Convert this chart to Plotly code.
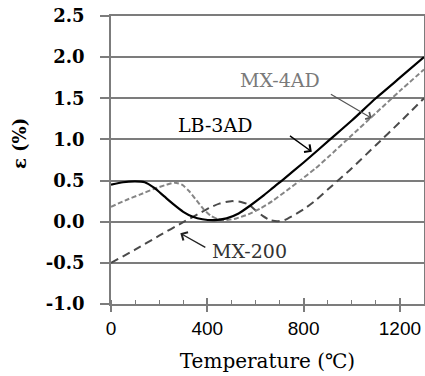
import plotly.graph_objects as go

# ---- data ----
lb3ad_t = [0, 50, 100, 140, 180, 220, 260, 300, 340, 380, 430, 480, 530, 580, 630, 680, 710, 800, 910, 1000, 1100, 1200, 1300]
lb3ad_v = [0.45, 0.48, 0.49, 0.48, 0.41, 0.31, 0.21, 0.12, 0.06, 0.03, 0.02, 0.04, 0.10, 0.20, 0.31, 0.43, 0.50, 0.72, 1.00, 1.23, 1.50, 1.75, 2.00]

mx4ad_t = [0, 60, 120, 180, 230, 265, 295, 325, 355, 385, 415, 445, 480, 520, 570, 620, 670, 730, 785, 850, 900, 1000, 1100, 1200, 1300]
mx4ad_v = [0.18, 0.26, 0.33, 0.40, 0.45, 0.475, 0.45, 0.37, 0.26, 0.15, 0.07, 0.03, 0.02, 0.04, 0.09, 0.16, 0.25, 0.38, 0.50, 0.65, 0.78, 1.05, 1.32, 1.59, 1.85]

mx200_t = [0, 100, 200, 300, 360, 410, 450, 500, 540, 570, 600, 630, 660, 690, 720, 760, 800, 850, 900, 950, 1000, 1100, 1200, 1300]
mx200_v = [-0.50, -0.34, -0.17, -0.005, 0.09, 0.17, 0.22, 0.25, 0.24, 0.21, 0.14, 0.07, 0.02, 0.005, 0.02, 0.08, 0.15, 0.26, 0.39, 0.52, 0.65, 0.93, 1.21, 1.50]

x_ticks = [0, 400, 800, 1200]
x_tick_labels = ["0", "400", "800", "1200"]
y_ticks = [-1.0, -0.5, 0.0, 0.5, 1.0, 1.5, 2.0, 2.5]
y_tick_labels = ["-1.0", "-0.5", "0.0", "0.5", "1.0", "1.5", "2.0", "2.5"]

GRID = "#7c7c7c"
SERIF = "DejaVu Serif"

fig = go.Figure()
fig.add_trace(go.Scatter(x=mx200_t, y=mx200_v, mode="lines", line=dict(color="#4a4a4a", width=2, dash="8px,5px", shape="spline", smoothing=0.6), name="MX-200"))
fig.add_trace(go.Scatter(x=mx4ad_t, y=mx4ad_v, mode="lines", line=dict(color="#858585", width=2, dash="5px,2.5px", shape="spline", smoothing=0.6), name="MX-4AD"))
fig.add_trace(go.Scatter(x=lb3ad_t, y=lb3ad_v, mode="lines", line=dict(color="black", width=2.2, shape="spline", smoothing=0.6), name="LB-3AD"))
# empty trace to activate overlay axis (inside part of major ticks)
fig.add_trace(go.Scatter(x=[], y=[], xaxis="x2", showlegend=False))

annotations = [
    # labels
    dict(x=433, y=1.18, text="LB-3AD", font=dict(family=SERIF, size=19, color="black")),
    dict(x=702, y=1.72, text="MX-4AD", font=dict(family=SERIF, size=19, color="#7a7a7a")),
    dict(x=574, y=-0.354, text="MX-200", font=dict(family=SERIF, size=19, color="#333333")),
    # arrows
    dict(x=834, y=0.85, ax=737, ay=1.057, text="", showarrow=True, axref="x", ayref="y",
         arrowhead=4, arrowsize=1.3, arrowwidth=1.4, arrowcolor="black"),
    dict(x=1083, y=1.257, ax=907, ay=1.56, text="", showarrow=True, axref="x", ayref="y",
         arrowhead=4, arrowsize=1.3, arrowwidth=1.2, arrowcolor="#555555"),
    dict(x=288, y=-0.141, ax=398, ay=-0.323, text="", showarrow=True, axref="x", ayref="y",
         arrowhead=4, arrowsize=1.3, arrowwidth=1.4, arrowcolor="#222222"),
]
for a in annotations:
    a.setdefault("showarrow", False)
    a.setdefault("xref", "x")
    a.setdefault("yref", "y")
    a.setdefault("xanchor", "center")
    a.setdefault("yanchor", "middle")

# y-axis title as annotation (placed off-centre as in the reference)
annotations.append(dict(xref="paper", yref="paper", x=-0.29, y=0.556, text="ε (%)", textangle=-90,
                        xanchor="center", yanchor="middle",
                        showarrow=False, font=dict(family=SERIF, size=18, color="black", weight="bold")))

fig.update_layout(
    width=425, height=376,
    margin=dict(l=111, r=1, t=16, b=72, autoexpand=False),
    paper_bgcolor="white", plot_bgcolor="white",
    showlegend=False,
    annotations=annotations,
    xaxis=dict(
        range=[0, 1300], tickvals=x_ticks, ticktext=x_tick_labels, automargin=False,
        ticks="outside", ticklen=6, tickwidth=1.5, tickcolor=GRID,
        showline=True, linecolor=GRID, linewidth=1.5, mirror=True,
        showgrid=False, zeroline=False,
        tickfont=dict(family="Liberation Sans", size=19, color="black"),
        title=dict(text="Temperature (℃)", font=dict(family=SERIF, size=20, color="black"), standoff=16),
        minor=dict(dtick=100, ticks="inside", ticklen=4, tickwidth=1.2, tickcolor=GRID, showgrid=False),
    ),
    xaxis2=dict(
        overlaying="x", range=[0, 1300], tickvals=x_ticks, ticks="inside", ticklen=6, tickwidth=1.5,
        tickcolor=GRID, showticklabels=False, showgrid=False, zeroline=False, showline=False, side="bottom",
        anchor="y", automargin=False,
    ),
    yaxis=dict(
        range=[-1.0, 2.5], tickvals=y_ticks, ticktext=y_tick_labels, automargin=False,
        ticks="outside", ticklen=9, tickwidth=1.5, tickcolor=GRID,
        showline=True, linecolor=GRID, linewidth=1.5, mirror=True,
        showgrid=True, gridcolor=GRID, gridwidth=1.5, zeroline=False,
        tickfont=dict(family=SERIF, size=18, color="black", weight="bold"),
        ticklabelstandoff=12,
    ),
)

fig.write_html("out.html", config={"displayModeBar": False},
               post_script="document.body.style.margin='0';")
